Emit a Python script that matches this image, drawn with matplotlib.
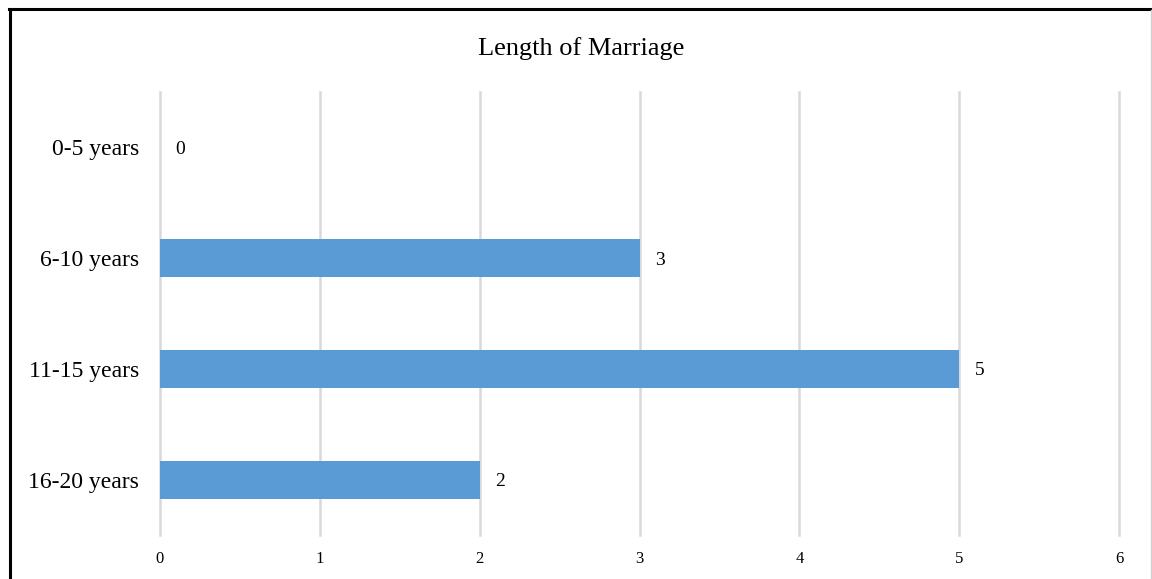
import matplotlib
matplotlib.use("Agg")
import matplotlib.pyplot as plt
from matplotlib.lines import Line2D

categories = ["0-5 years", "6-10 years", "11-15 years", "16-20 years"]
values = [0, 3, 5, 2]
xticks = [0, 1, 2, 3, 4, 5, 6]
title = "Length of Marriage"

plt.rcParams['font.family'] = ['Liberation Serif', 'DejaVu Serif']

W, H = 1152, 579
fig = plt.figure(figsize=(W / 100, H / 100), dpi=100)
ax = fig.add_axes([160 / W, 1 - 535 / H, (1119 - 160) / W, (535 - 92) / H])

ypos = list(range(len(categories)))[::-1]
ax.barh(ypos, values, height=0.345, color="#5B9BD5", zorder=3)
for y, v in zip(ypos, values):
    ax.annotate(str(v), (v, y), xytext=(11, -1.5), textcoords="offset points",
                ha="left", va="center", fontsize=14, color="#000000")

ax.set_xlim(0, 6)
ax.set_ylim(-0.5, len(categories) - 0.5)
ax.set_xticks(xticks)
ax.set_xticklabels([str(t) for t in xticks], fontsize=12)
ax.set_yticks(ypos)
ax.set_yticklabels(categories, fontsize=17, va="center_baseline")
ax.tick_params(axis="both", length=0)
ax.tick_params(axis="x", pad=11.5)
ax.tick_params(axis="y", pad=15)
for s in ax.spines.values():
    s.set_visible(False)
ax.grid(axis="x", color="#D9D9D9", linewidth=1.8, zorder=0)
ax.grid(axis="y", visible=False)
for gl in ax.get_xgridlines():
    gl.set_clip_on(False)

fig.text(581 / W, 1 - 46 / H, title, ha="center", va="center_baseline", fontsize=19)

# figure border
fig.add_artist(Line2D([9.5 / W, 9.5 / W], [0, 1 - 9 / H], color="black", linewidth=2.2, transform=fig.transFigure))
fig.add_artist(Line2D([8.5 / W, 1], [1 - 9 / H, 1 - 9 / H], color="black", linewidth=2.2, transform=fig.transFigure))
fig.add_artist(Line2D([1150.5 / W, 1150.5 / W], [0, 1 - 10 / H], color="#D0D0D0", linewidth=1, transform=fig.transFigure))

fig.savefig("out.png", dpi=100)
